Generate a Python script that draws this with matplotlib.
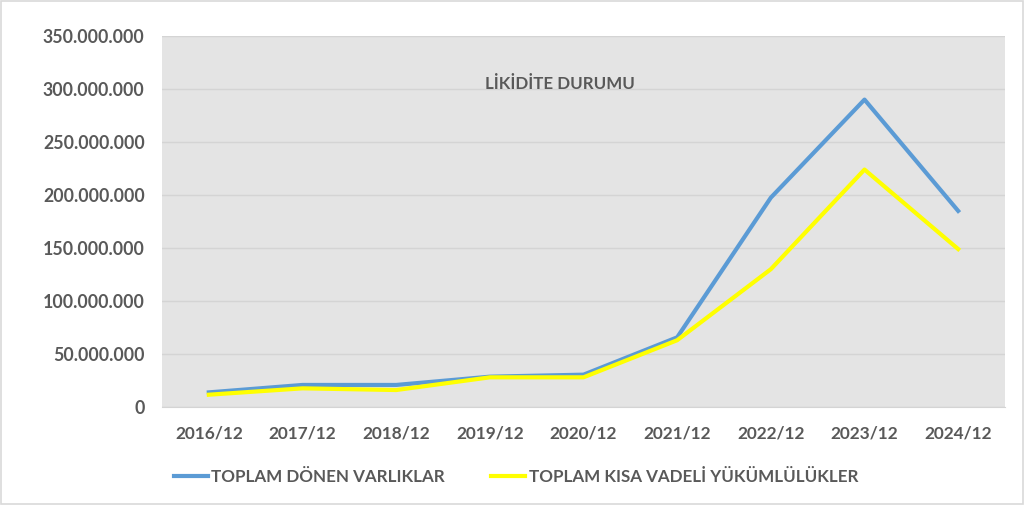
import matplotlib.pyplot as plt
from matplotlib.patches import Rectangle
from matplotlib.ticker import FuncFormatter

periods = ["2016/12", "2017/12", "2018/12", "2019/12", "2020/12",
           "2021/12", "2022/12", "2023/12", "2024/12"]
donen_varliklar = [13.8e6, 20.8e6, 20.8e6, 28.6e6, 30.5e6,
                   65.7e6, 197.5e6, 290.0e6, 185.0e6]
kisa_vadeli = [11.6e6, 17.6e6, 16.0e6, 28.0e6, 28.0e6,
               63.0e6, 130.0e6, 224.0e6, 149.0e6]

plt.rcParams['font.family'] = ['Lato', 'DejaVu Sans']
txt = '#595959'

fig = plt.figure(figsize=(10.24, 5.05), dpi=100)
ax = fig.add_axes([162 / 1024, 1 - 407 / 505, (1005 - 162) / 1024, (407 - 36) / 505])
ax.set_facecolor('#e4e4e4')

x = list(range(len(periods)))
ax.plot(x, donen_varliklar, color='#5b9bd5', lw=3, solid_joinstyle='round',
        label='TOPLAM DÖNEN VARLIKLAR')
ax.plot(x, kisa_vadeli, color='#ffff00', lw=3, solid_joinstyle='round',
        label='TOPLAM KISA VADELİ YÜKÜMLÜLÜKLER')

ax.set_xlim(-0.5, len(periods) - 0.5)
ax.set_ylim(0, 350e6)
ax.set_yticks([i * 50e6 for i in range(8)])
ax.yaxis.set_major_formatter(FuncFormatter(lambda v, p: f"{int(v):,}".replace(",", ".")))
ax.set_xticks(x)
ax.set_xticklabels(periods)
ax.grid(axis='y', color='#d4d4d4', lw=1)
ax.set_axisbelow(True)
for s in ['top', 'right', 'left']:
    ax.spines[s].set_visible(False)
ax.spines['bottom'].set_color('#d4d4d4')
ax.tick_params(length=0, labelcolor=txt)
ax.tick_params(axis='y', pad=12.5, labelsize=12.8)
ax.tick_params(axis='x', pad=13, labelsize=12.4)
for lbl in ax.get_xticklabels() + ax.get_yticklabels():
    lbl.set_fontweight('bold')

ax.text(559.5 / 1024, 1 - 84 / 505, 'LİKİDİTE DURUMU', transform=fig.transFigure,
        ha='center', va='center', fontsize=12.2, fontweight='bold', color=txt)

fig.legend(loc='center left', bbox_to_anchor=(174 / 1024, 1 - 477 / 505), ncol=2,
           frameon=False, borderpad=0, borderaxespad=0,
           handlelength=2.0, handletextpad=0.2, columnspacing=2.7,
           prop={'size': 12.25, 'weight': 'bold'}, labelcolor=txt)

fig.patches.append(Rectangle((1 / 1024, 1 / 505), 1 - 2 / 1024, 1 - 2 / 505,
                             transform=fig.transFigure, fill=False,
                             edgecolor='#d9d9d9', lw=1.2))

fig.savefig('out.png', dpi=100)
